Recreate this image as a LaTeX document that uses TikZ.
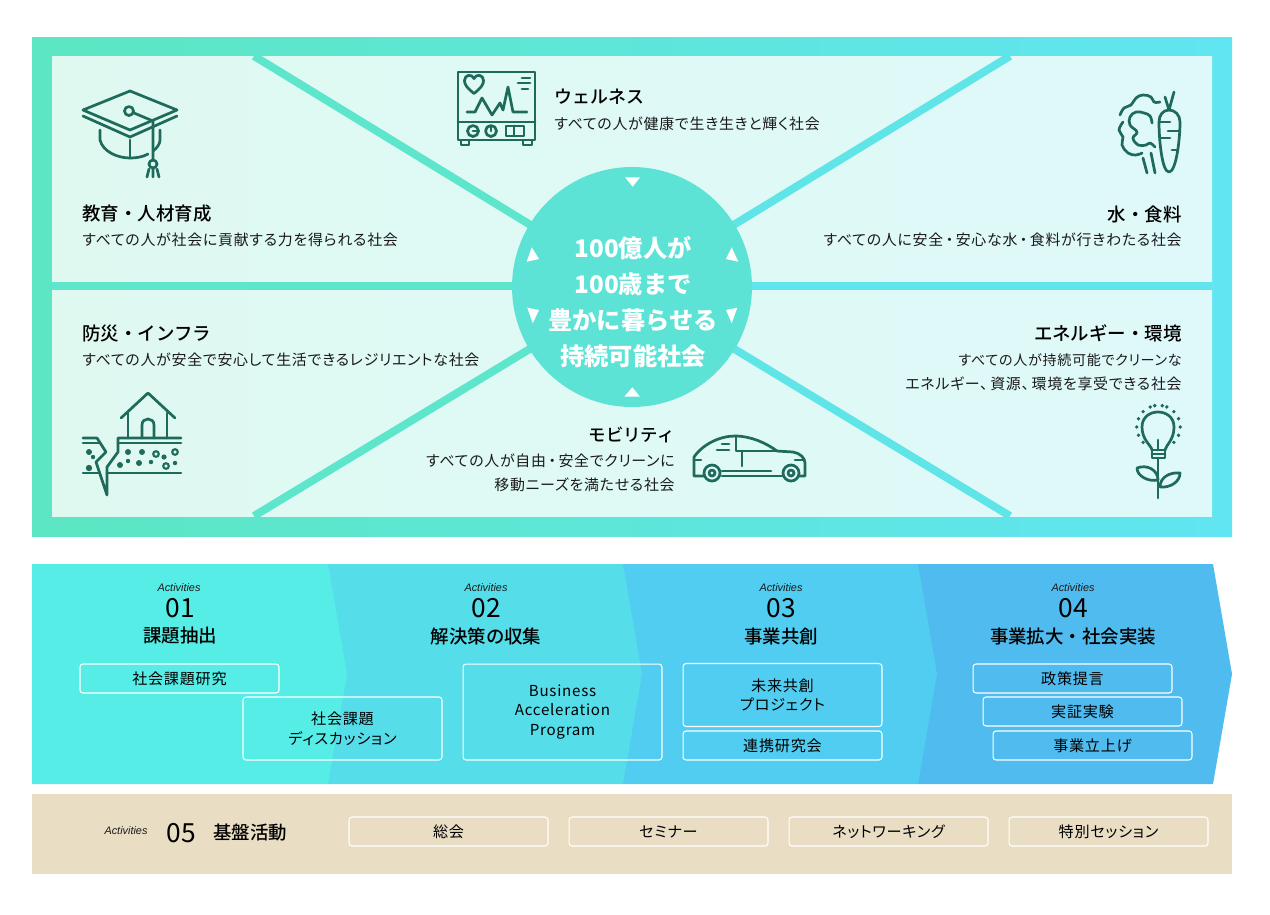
\documentclass[tikz,border=0pt]{standalone}
\usepackage{fontspec}
\setmainfont{Noto Sans CJK JP}
\newfontfamily\medfont{Noto Sans CJK JP Medium}
\newfontfamily\paltfont{Noto Sans CJK JP}[RawFeature=+palt,LetterSpace=5]
\newfontfamily\actfont{Liberation Sans}
\definecolor{frameL}{HTML}{5CE6C2}
\definecolor{frameR}{HTML}{60E5F2}
\definecolor{panelL}{HTML}{DFF9F1}
\definecolor{panelR}{HTML}{DFF9FA}
\definecolor{hubcol}{HTML}{5CE3D6}
\definecolor{iconcol}{HTML}{1F6B5B}
\definecolor{inkcol}{HTML}{1A1A1A}
\definecolor{bandA}{HTML}{55EDE6}
\definecolor{bandB}{HTML}{55DDEA}
\definecolor{bandC}{HTML}{50CDF0}
\definecolor{bandD}{HTML}{50BBEE}
\definecolor{basecol}{HTML}{E9DDC3}
\begin{document}
\begin{tikzpicture}[
    x=0.02cm, y=-0.02cm,
    goal/.style={inner sep=0pt, text=black, font=\medfont\fontsize{10.5}{13}\selectfont},
    desc/.style={inner sep=0pt, text=inkcol, font=\paltfont\fontsize{8.5}{13.6}\selectfont},
    spoke/.style={line width=4.5pt},
    icon/.style={draw=iconcol, line width=1.55pt, line join=round, line cap=round},
    act/.style={inner sep=0pt, text=inkcol, font=\actfont\itshape\fontsize{6.2}{7}\selectfont},
    num/.style={inner sep=0pt, text=black, font=\fontsize{15}{18}\selectfont},
    head/.style={inner sep=0pt, text=black, font=\medfont\fontsize{10.5}{13}\selectfont},
    subbox/.style={draw=white, line width=0.6pt, rounded corners=1.7pt, minimum width=3.98cm, inner sep=0pt, align=center, text=black, font=\paltfont\fontsize{8.6}{11.3}\selectfont},
    boxs/.style={subbox, minimum height=0.58cm},
    boxm/.style={subbox, minimum height=1.26cm},
    boxl/.style={subbox, minimum height=1.92cm}
]
    \useasboundingbox (0,0) rectangle (1270,914);

    % Goal frame and panel
    \shade[left color=frameL, right color=frameR] (32,37) rectangle (1232,536);
    \shade[left color=panelL, right color=panelR] (52,56) rectangle (1212,516);

    % Spokes
    \coordinate (hubc) at (632,287);
    \coordinate (nw) at (254,56);
    \coordinate (ne) at (1010,56);
    \coordinate (sw) at (254,516);
    \coordinate (se) at (1010,516);
    \coordinate (w) at (52,286);
    \coordinate (e) at (1212,286);
    \begin{scope}
        \clip (52,56) rectangle (1212,516);
        \draw[spoke, frameL!80!frameR] (hubc) -- (nw);
        \draw[spoke, frameL!20!frameR] (hubc) -- (ne);
        \draw[spoke, frameL!80!frameR] (hubc) -- (sw);
        \draw[spoke, frameL!20!frameR] (hubc) -- (se);
        \draw[spoke, frameL!85!frameR] (hubc |- w) -- (w);
        \draw[spoke, frameL!15!frameR] (hubc |- e) -- (e);
    \end{scope}

    % Hub
    \node[circle, fill=hubcol, minimum size=4.8cm, inner sep=0pt] (hub) at (hubc) {};
    \node[align=center, inner sep=0pt, text=white, font=\bfseries\fontsize{13.8}{20.4}\selectfont] (hubt) at (633,302) {100億人が\\100歳まで\\豊かに暮らせる\\持続可能社会};
    \fill[white] (625,177.3) -- (640,177.3) -- (632.7,186.7) -- cycle;
    \fill[white] (624.3,396.7) -- (640,396.7) -- (632.3,387.3) -- cycle;
    \fill[white] (531.7,247.3) -- (539,259) -- (526.7,261.7) -- cycle;
    \fill[white] (731.7,247.3) -- (726,259) -- (738.3,261.7) -- cycle;
    \fill[white] (527.3,307.7) -- (539,310) -- (532.7,323.3) -- cycle;
    \fill[white] (737.3,307.7) -- (726,310) -- (731.7,323.3) -- cycle;

    % Goal texts
    \node[goal, anchor=west] (edu) at (82,214) {教育・人材育成};
    \node[desc, anchor=west] (edud) at (82,240) {すべての人が社会に貢献する力を得られる社会};
    \node[goal, anchor=west, font=\medfont\fontsize{10.2}{13}\selectfont] (well) at (554,97) {ウェルネス};
    \node[desc, anchor=west] (welld) at (554,124) {すべての人が健康で生き生きと輝く社会};
    \node[goal, anchor=east] (food) at (1182,214) {水・食料};
    \node[desc, anchor=east] (foodd) at (1182,240) {すべての人に安全\,・\,安心な水\,・\,食料が行きわたる社会};
    \node[goal, anchor=west] (safe) at (82,334) {防災・インフラ};
    \node[desc, anchor=west] (safed) at (82,360) {すべての人が安全で安心して生活できるレジリエントな社会};
    \node[goal, anchor=east] (ener) at (1182,333) {エネルギー・環境};
    \node[desc, anchor=east, align=right] (enerd) at (1182,372) {{\fontsize{8}{13.6}\selectfont すべての人が持続可能でクリーンな}\\エネルギー、\,資源、\,環境を享受できる社会};
    \node[goal, anchor=east, font=\medfont\fontsize{9.9}{13}\selectfont] (mob) at (675,435) {モビリティ};
    \node[desc, anchor=east, align=right] (mobd) at (675,473) {すべての人が自由\,・\,安全でクリーンに\\移動ニーズを満たせる社会};

    % Cap icon
    \draw[icon] (130,91) -- (83,110) -- (130,130) -- (177,110) -- cycle;
    \draw[icon] (83,116) -- (130,137) -- (177,116);
    \draw[icon] (129,111) circle (4.5);
    \draw[icon] (134,113) -- (153,121) -- (153,160);
    \draw[icon] (153,164) circle (4);
    \draw[icon] (147,177) -- (149,169) (153,177) -- (153,169) (159,177) -- (157,169);
    \draw[icon] (100,130) -- (100,140) .. controls (103,152) and (118,158) .. (130,158) .. controls (136,158) and (143,157) .. (148,154);
    \draw[icon] (130,140) -- (130,158);
    \draw[icon] (160,130) -- (160,140) .. controls (160,144) and (157,148) .. (153,151);

    % Monitor icon
    \draw[icon] (458,72) rectangle (535,140);
    \draw[icon] (458,122) -- (535,122);
    \draw[icon] (461,140) rectangle (469,145);
    \draw[icon] (523,140) rectangle (532,145);
    \draw[icon] (474,93.5) .. controls (466,87) and (464.5,84) .. (464.5,80.5) .. controls (464.5,74.5) and (472,73.5) .. (474,78.5) .. controls (476,73.5) and (483.5,74.5) .. (483.5,80.5) .. controls (483.5,84) and (482,87) .. (474,93.5);
    \draw[icon] (522,78) -- (530,78) (518,83) -- (530,83) (522,89) -- (528,89);
    \draw[icon] (467,112) -- (475,112) -- (482,98) -- (492,115) -- (500,103) -- (503,110) -- (508,87) -- (513,112) -- (527,112);
    \draw[icon] (473,131) circle (5.5);
    \draw[icon] (491,131) circle (5.5);
    \draw[icon] (473,131) -- (478,131) (491,126) -- (491,131);
    \draw[icon] (506,126) rectangle (524,136);
    \draw[icon] (514,126) -- (514,136);

    % Vegetable icon
    \draw[icon] plot[smooth, tension=.7] coordinates {(1120,115) (1124,108) (1131,105) (1136,98) (1143,95) (1151,97) (1154,102) (1160,102)};
    \draw[icon] plot[smooth, tension=.7] coordinates {(1152,123) (1150,116) (1144,113) (1136,112) (1130,117) (1130,125) (1137,132) (1133,138) (1138,145) (1146,145) (1150,143) (1155,147)};
    \draw[icon] plot[smooth, tension=.7] coordinates {(1123,122) (1119,130) (1123,137) (1122,145) (1128,153) (1136,155) (1142,153)};
    \draw[icon] (1143,158) -- (1147,173) (1151,153) -- (1155,173);
    \draw[icon] (1169,110) .. controls (1163,110) and (1159,115) .. (1159,122) .. controls (1159,140) and (1162,172) .. (1169,172) .. controls (1176,172) and (1180,140) .. (1180,122) .. controls (1180,115) and (1175,110) .. (1169,110);
    \draw[icon] (1165,97) -- (1169,110) -- (1174,92);
    \draw[icon] (1160,122) -- (1170,122) (1168,131) -- (1179,131) (1161,138) -- (1170,138) (1172,150) -- (1177,150);

    % House icon
    \draw[icon] (121,418) -- (148,393) -- (175,418);
    \draw[icon] (128,413) -- (128,438) (167,413) -- (167,438);
    \draw[icon] (142,438) -- (142,425) .. controls (142,417) and (154,417) .. (154,425) -- (154,438);
    \draw[icon] (181,438) -- (118,438) -- (118,452) -- (107,467) -- (107,495) -- (96,462) -- (106,452) -- (97,438) -- (83,438);
    \draw[icon] (118,443) -- (181,443) (83,443) -- (99,443);
    \draw[icon] (83,473) -- (99,473) (107,473) -- (181,473);
    \foreach \px/\py/\pr in {89/452/3, 93/457/2.2, 89/468/3.2, 128/452/3, 142/452/3, 128/461/2.2, 120/465/3, 139/463/3, 151/462/2.2, 175/463/2.2, 164/457/2.6} {
        \fill[iconcol] (\px,\py) circle (\pr);
    }
    \draw[iconcol, line width=1.2pt] (156,454) circle (2.8) (175,452) circle (2.8) (166,466) circle (2.8);

    % Car icon
    \draw[icon] (704,476) -- (694,476) -- (694,457) .. controls (703,444) and (720,436) .. (735,436) .. controls (751,436) and (766,443) .. (777,451) -- (793,452) .. controls (800,453) and (805,458) .. (805,463) -- (805,476) -- (799,476);
    \draw[icon] (722,476) -- (782,476) (722,471) -- (771,471);
    \draw[icon] (736,436) -- (736,451) -- (777,451) (742,452) -- (742,466);
    \draw[icon] (694,460) -- (701,460) (795,460) -- (803,460);
    \draw[icon] (722,444) -- (729,444) (717,450) -- (729,450);
    \foreach \wx in {712,791} {
        \draw[icon] (\wx,473) circle (8);
        \draw[icon] (\wx,473) circle (3);
    }

    % Bulb icon
    \draw[icon] (1152,450) .. controls (1151,445) and (1142,440) .. (1142,427) .. controls (1142,407) and (1174,407) .. (1174,427) .. controls (1174,440) and (1166,445) .. (1165,450);
    \draw[icon] (1152,450) rectangle (1165,458);
    \draw[icon] (1152,454) -- (1165,454);
    \draw[icon] (1158,440) -- (1158,450);
    \draw[icon] (1158,458) -- (1158,498);
    \draw[icon] (1158,480) .. controls (1148,482) and (1137,476) .. (1137,468) .. controls (1147,464) and (1158,470) .. (1158,480);
    \draw[icon] (1160,487) .. controls (1160,477) and (1170,472) .. (1180,473) .. controls (1180,482) and (1170,488) .. (1160,487);
    \foreach \ang in {-45,-22.5,0,22.5,45,-67.5,-80,-100,-112.5,-135,-157.5,-180,-202.5,-225} {
        \fill[iconcol] (1158.5,427) ++(\ang:21.7) circle (1.9);
    }

    % Activity arrows
    \fill[bandD] (918,564) -- (1213,564) -- (1232,674) -- (1213,784) -- (918,784) -- cycle;
    \fill[bandC] (623,564) -- (918,564) -- (937,674) -- (918,784) -- (623,784) -- cycle;
    \fill[bandB] (328,564) -- (623,564) -- (642,674) -- (623,784) -- (328,784) -- cycle;
    \fill[bandA] (32,564) -- (328,564) -- (347,674) -- (328,784) -- (32,784) -- cycle;
    \fill[basecol] (32,794) rectangle (1232,874);

    % Activity 01
    \node[act] (act1) at (179,588) {Activities};
    \node[num] (num1) at (180,608) {01};
    \node[head] (head1) at (180,636) {課題抽出};
    \node[boxs] (res) at (179.5,678.5) {社会課題研究};
    \node[boxm] (disc) at (342.5,728.5) {社会課題\\ディスカッション};

    % Activity 02
    \node[act] (act2) at (486,588) {Activities};
    \node[num] (num2) at (486,608) {02};
    \node[head] (head2) at (486,636) {解決策の収集};
    \node[boxl] (bap) at (562.5,712) {Business\\Acceleration\\Program};

    % Activity 03
    \node[act] (act3) at (781,588) {Activities};
    \node[num] (num3) at (781,608) {03};
    \node[head] (head3) at (781,636) {事業共創};
    \node[boxm] (fut) at (782.5,695) {未来共創\\プロジェクト};
    \node[boxs] (coop) at (782.5,745.5) {連携研究会};

    % Activity 04
    \node[act] (act4) at (1073,588) {Activities};
    \node[num] (num4) at (1073,608) {04};
    \node[head] (head4) at (1073,636) {事業拡大・社会実装};
    \node[boxs] (pol) at (1072.5,678.5) {政策提言};
    \node[boxs] (demo) at (1082.5,711.5) {実証実験};
    \node[boxs] (launch) at (1092.5,745.5) {事業立上げ};

    % Activity 05
    \node[act] (act5) at (126,831) {Activities};
    \node[num] (num5) at (181,833) {05};
    \node[head] (head5) at (250,833) {基盤活動};
    \node[boxs] (gen) at (448.5,831.5) {総会};
    \node[boxs] (sem) at (668.5,831.5) {セミナー};
    \node[boxs] (net) at (888.5,831.5) {ネットワーキング};
    \node[boxs] (spe) at (1108.5,831.5) {特別セッション};
\end{tikzpicture}
\end{document}
